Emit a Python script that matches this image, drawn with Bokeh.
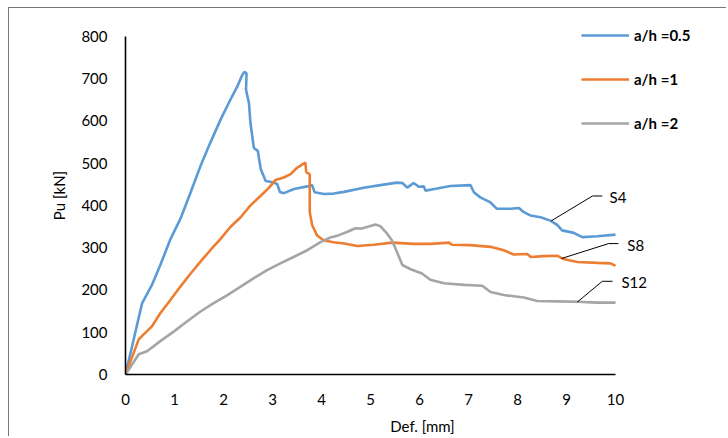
from bokeh.plotting import figure
from bokeh.models import Legend, LegendItem, Label, FixedTicker, Range1d
from bokeh.embed import file_html
from bokeh.resources import INLINE

# S4 : a/h = 0.5
x_s4 = [0, 0.34, 0.54, 0.71, 0.92, 1.12, 1.33, 1.53, 1.73, 1.94, 2.14, 2.28, 2.38, 2.43, 2.47,
        2.46, 2.52, 2.55, 2.62, 2.70, 2.76, 2.86, 3.03, 3.10, 3.15, 3.23, 3.44, 3.71, 3.81, 3.86,
        4.05, 4.25, 4.46, 4.86, 5.20, 5.54, 5.65, 5.75, 5.88, 5.99, 6.09, 6.12, 6.36, 6.63, 7.04,
        7.11, 7.24, 7.45, 7.58, 7.86, 8.03, 8.13, 8.27, 8.47, 8.67, 8.81, 8.91, 9.15, 9.32, 9.63, 10.0]
y_s4 = [0, 169, 212, 259, 321, 368, 431, 493, 548, 603, 650, 681, 708, 716, 712,
        673, 642, 595, 536, 529, 486, 458, 454, 450, 432, 429, 439, 445, 448, 431,
        427, 428, 432, 442, 448, 454, 453, 442, 453, 444, 445, 435, 440, 446, 448,
        431, 419, 407, 392, 392, 394, 384, 376, 372, 364, 354, 341, 335, 325, 327, 331]

# S8 : a/h = 1
x_s8 = [0, 0.27, 0.37, 0.54, 0.71, 0.92, 1.12, 1.33, 1.53, 1.73, 1.94, 2.14, 2.35, 2.55, 2.76,
        2.93, 3.06, 3.23, 3.37, 3.50, 3.61, 3.67, 3.69, 3.76, 3.76, 3.76, 3.81, 3.91, 4.05, 4.25,
        4.46, 4.73, 5.07, 5.44, 5.88, 6.22, 6.60, 6.66, 7.04, 7.45, 7.72, 7.92, 8.20, 8.27, 8.54,
        8.81, 8.94, 9.22, 9.63, 9.90, 10.0]
y_s8 = [0, 83, 95, 114, 145, 177, 208, 239, 267, 294, 321, 349, 372, 400, 423,
        442, 460, 466, 474, 489, 497, 501, 478, 474, 431, 384, 353, 329, 317, 313,
        310, 304, 307, 312, 309, 309, 312, 307, 306, 302, 294, 284, 285, 278, 280,
        281, 273, 266, 264, 263, 257]

# S12 : a/h = 2
x_s12 = [0, 0.27, 0.44, 0.71, 0.99, 1.26, 1.53, 1.80, 2.08, 2.35, 2.62, 2.89, 3.16, 3.43, 3.71,
         3.98, 4.18, 4.32, 4.52, 4.69, 4.80, 4.93, 5.10, 5.20, 5.34, 5.44, 5.54, 5.65, 5.82, 6.05,
         6.22, 6.50, 6.91, 7.28, 7.45, 7.72, 8.13, 8.40, 8.81, 9.22, 9.63, 10.0]
y_s12 = [0, 48, 55, 79, 102, 126, 149, 169, 188, 208, 228, 247, 263, 278, 294,
         313, 324, 328, 337, 346, 345, 349, 355, 351, 333, 317, 290, 259, 249, 239,
         224, 216, 212, 210, 195, 188, 182, 174, 173, 172, 170, 170]

series_names = ["a/h =0.5", "a/h =1", "a/h =2"]
series_colors = ["#5B9BD5", "#ED7D31", "#A5A5A5"]
y_ticks = [0, 100, 200, 300, 400, 500, 600, 700, 800]
x_ticks = list(range(0, 11))

FONT = "Lato"

# plot frame extends past the axes so that the legend and callouts are not clipped
X_END = 10 * 594 / 490
Y_END = 800 * 361 / 341

p = figure(width=718, height=429, output_backend="svg", toolbar_location=None,
           x_range=Range1d(0, X_END), y_range=Range1d(0, Y_END),
           min_border_left=116, min_border_right=8, min_border_top=8, min_border_bottom=60)
p.styles = {"margin-left": "8px", "margin-top": "7px",
            "border-left": "1px solid #767676", "border-top": "1px solid #767676"}
p.outline_line_color = None
p.grid.grid_line_color = None
p.background_fill_color = "white"
p.border_fill_color = "white"

for ax in (p.xaxis[0], p.yaxis[0]):
    ax.axis_line_color = "black"
    ax.axis_line_width = 1.6
    ax.major_tick_line_color = None
    ax.minor_tick_line_color = None
    ax.major_label_text_font = FONT
    ax.major_label_text_font_size = "15px"
    ax.major_label_text_color = "black"
    ax.axis_label_text_font = FONT
    ax.axis_label_text_font_size = "15px"
    ax.axis_label_text_font_style = "normal"
    ax.axis_label_text_color = "black"

p.xaxis.bounds = (0, 10)
p.yaxis.bounds = (0, 800)
p.xaxis.ticker = FixedTicker(ticks=x_ticks)
p.yaxis.ticker = FixedTicker(ticks=y_ticks)
p.xaxis.major_label_standoff = 13
p.yaxis.major_label_standoff = 12
p.xaxis.axis_label = "Def. [mm]"
p.yaxis.axis_label = "Pu [kN]"
p.xaxis.axis_label_standoff = 9
p.yaxis.axis_label_standoff = 10

r1 = p.line(x_s4, y_s4, line_color=series_colors[0], line_width=2.6)
r2 = p.line(x_s8, y_s8, line_color=series_colors[1], line_width=2.6)
r3 = p.line(x_s12, y_s12, line_color=series_colors[2], line_width=2.6)

legend = Legend(items=[LegendItem(label=series_names[0], renderers=[r1]),
                       LegendItem(label=series_names[1], renderers=[r2]),
                       LegendItem(label=series_names[2], renderers=[r3])],
                location=(456, 241), orientation="vertical",
                glyph_width=48, glyph_height=20, label_height=20, spacing=24,
                label_standoff=5, padding=0, margin=0,
                border_line_color=None, background_fill_alpha=0,
                label_text_font=FONT, label_text_font_size="15px",
                label_text_font_style="bold", label_text_color="black")
p.add_layout(legend, "center")

# callout leader lines and labels
leaders = [([8.69, 9.53, 9.73], [363.6, 422.3, 422.3]),
           ([8.90, 9.86, 10.06], [274.5, 309.7, 309.7]),
           ([9.22, 9.73, 9.94], [171.3, 220.5, 220.5])]
for lx, ly in leaders:
    p.line(lx, ly, line_color="black", line_width=1)

for txt, tx, ty in [("S4", 9.88, 419), ("S8", 10.24, 306), ("S12", 10.12, 219)]:
    p.add_layout(Label(x=tx, y=ty, text=txt, text_font=FONT, text_font_size="15px",
                       text_baseline="middle", text_align="left", text_color="black"))

open("out.html", "w").write(file_html(p, INLINE))
